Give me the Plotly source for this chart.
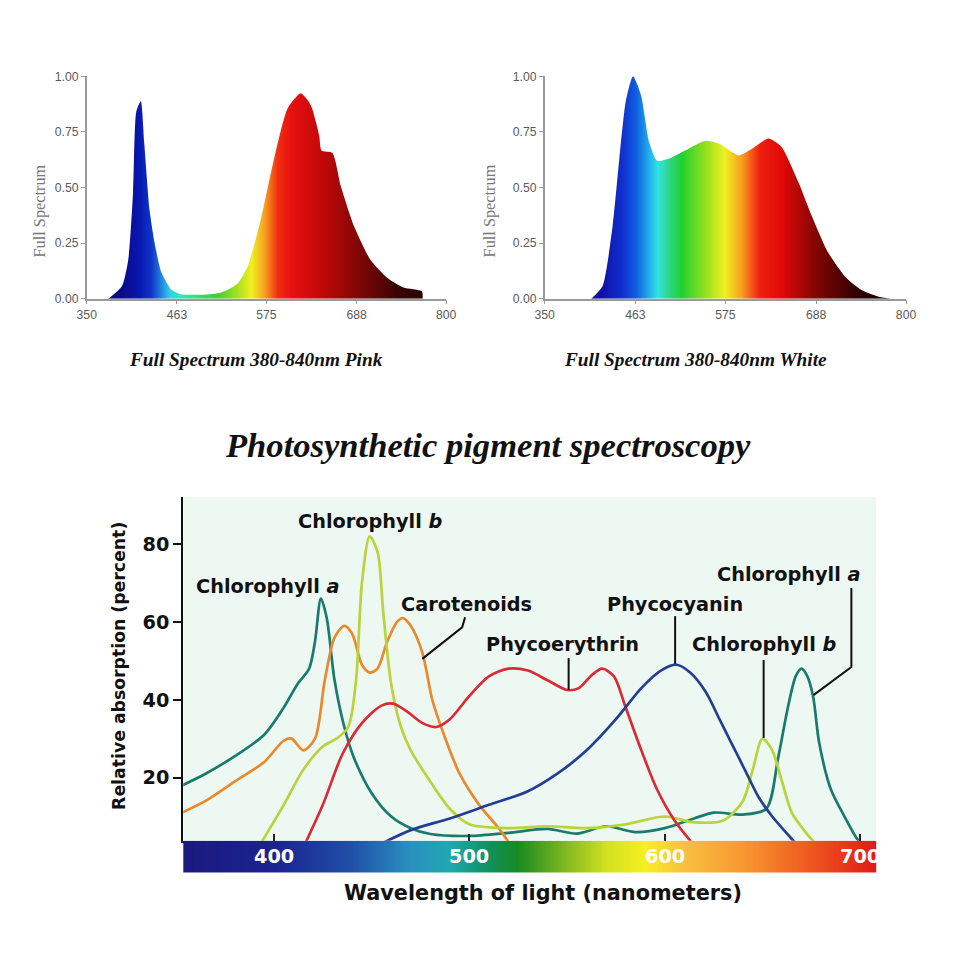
import numpy as np
import plotly.graph_objects as go

# ---------------- Data: LED spectra (top) ----------------
pink_nm = [377, 394, 402, 408, 412, 417.7, 422, 428.6, 435, 443.5, 456, 468, 497, 514, 526.7, 539,
           551.6, 568, 584.6, 601.5, 618, 630.5, 641, 644, 657.6, 668, 684.6, 705, 726, 746.6, 769.8, 770.5]
pink_val = [0, 0.056, 0.176, 0.48, 0.84, 0.887, 0.70, 0.40, 0.25, 0.117, 0.04, 0.02, 0.018, 0.024, 0.04, 0.068,
            0.146, 0.357, 0.63, 0.855, 0.923, 0.87, 0.735, 0.666, 0.655, 0.508, 0.327, 0.176, 0.094, 0.05, 0.033, 0]

white_nm = [408, 422, 434.6, 443, 451, 460, 470, 480, 490, 505, 525.6, 550, 567, 591.6, 608, 628.8,
            645, 666, 682.5, 703, 724, 744, 765, 781]
white_val = [0, 0.056, 0.327, 0.63, 0.887, 1.0, 0.915, 0.705, 0.62, 0.63, 0.667, 0.71, 0.697, 0.644, 0.674, 0.72,
             0.682, 0.523, 0.373, 0.207, 0.10, 0.04, 0.01, 0]

top_xticks = [350, 463, 575, 688, 800]
top_yticks = [0, 0.25, 0.5, 0.75, 1.0]

# ---------------- Data: pigment absorption (bottom) ----------------
chla_nm = [353, 365, 380, 395, 405, 412, 418, 421, 424, 427, 431, 436, 441, 450, 460, 470, 480, 500, 520, 540,
           555, 570, 585, 600, 615, 625, 640, 652, 658, 663, 667, 670, 673, 676, 679, 685, 692, 698, 702]
chla_val = [18, 21, 25.5, 31, 38, 44, 48, 55, 66, 61, 45, 33, 25, 16, 10, 7, 5.5, 5, 5.8, 6.8,
            5.6, 7.5, 6, 7, 9.5, 11, 10.5, 12, 25, 38, 46, 48, 46, 40.6, 29, 17, 10, 4.6, 2]

chlb_nm = [392, 405, 415, 425, 432, 438, 442, 445, 449, 453, 456, 460, 465, 470, 480, 490, 500, 520, 540,
           560, 580, 600, 615, 630, 640, 645, 650, 655, 660, 665, 672, 679]
chlb_val = [2, 13, 22, 28, 30, 33, 45, 70, 82, 78, 62, 44, 33, 27, 19, 12, 8, 7, 7.5,
            7, 8, 10, 8.5, 9, 14, 22, 30, 27, 19, 11, 6, 2]

caro_nm = [353, 365, 380, 395, 405, 409, 415, 421, 426, 431, 436, 440, 445, 449, 453, 458, 463, 466, 470,
           476, 481, 487, 495, 505, 515, 522]
caro_val = [11, 14, 19, 24, 29.5, 30, 27, 30, 45, 56, 59, 57, 49, 47, 48, 55, 60, 61, 59,
            52, 40, 31, 21, 13, 7, 2]

pe_nm = [415, 425, 435, 445, 455, 461, 468, 476, 483, 490, 500, 510, 520, 530, 540, 550, 556, 563, 568,
         574, 580, 588, 596, 605, 616]
pe_val = [2, 13, 26, 34, 38.5, 39, 37, 34, 33, 35, 41, 46, 48, 47.5, 45, 42.5, 43, 46.5, 48,
          46, 38, 27, 17, 9, 2]

pc_nm = [451, 470, 490, 510, 530, 545, 560, 575, 588, 598, 606, 613, 621, 628, 634, 641, 648, 655, 661, 669]
pc_val = [2, 6.5, 9.5, 13, 16.5, 21, 27, 35, 43, 47.5, 49, 47, 42, 35, 29, 22, 15, 10, 6.5, 2]

bottom_xticks = [400, 500, 600, 700]
bottom_yticks = [20, 40, 60, 80]

# ---------------- Styles ----------------
W = H = 960
# the captured page shows the figure offset by the body margin and slightly scaled;
# positions below are given in captured-picture pixels and mapped back to figure space
CAP_SCALE = 0.9836
CAP_OFF = 7.9


def fig_px(p):
    return (p - CAP_OFF) / CAP_SCALE


def px_x(p):
    return fig_px(p) / W


def px_y(p):
    return 1 - fig_px(p) / H


def fs(s):
    return round(s / CAP_SCALE, 1)


def cscale(stops, lo, hi):
    return [[(nm - lo) / (hi - lo), c] for nm, c in stops]


pink_stops = [(350, '#0a0a70'), (395, '#0a0a90'), (415, '#0818b0'), (430, '#1038c8'), (442, '#2088e0'),
              (452, '#30d0e8'), (465, '#30e8b8'), (485, '#30e070'), (510, '#40d030'), (535, '#a8e020'),
              (552, '#f0f020'), (568, '#f8a020'), (584, '#f03010'), (600, '#e81010'), (640, '#c00808'),
              (688, '#7a0606'), (730, '#3a0303'), (800, '#100000')]
white_stops = [(350, '#0a0a80'), (420, '#1010a8'), (445, '#1030d0'), (462, '#1060e0'), (476, '#20a8ea'),
               (488, '#30e4e4'), (500, '#30d890'), (517, '#20d030'), (545, '#90e020'), (570, '#f0f020'),
               (590, '#f8a020'), (612, '#f02010'), (640, '#e00808'), (682, '#800505'), (730, '#300202'),
               (800, '#080000')]
bar_stops = [(350, '#1a1a7e'), (400, '#1c2290'), (440, '#2050a8'), (470, '#2a90c0'), (490, '#20a8b0'),
             (510, '#109060'), (525, '#188a20'), (545, '#70b020'), (570, '#d0e020'), (590, '#f8f020'),
             (610, '#f8c040'), (640, '#f89830'), (670, '#f06020'), (710, '#e01818')]

fig = go.Figure()

# top spectra
fig.add_trace(go.Scatter(x=pink_nm, y=pink_val, mode='lines', fill='tozeroy',
                         line=dict(width=0, color='rgba(0,0,0,0)', shape='spline', smoothing=0.6),
                         fillgradient=dict(type='horizontal', colorscale=cscale(pink_stops, 350, 800),
                                           start=350, stop=800),
                         xaxis='x', yaxis='y', hoverinfo='skip', showlegend=False))
fig.add_trace(go.Scatter(x=white_nm, y=white_val, mode='lines', fill='tozeroy',
                         line=dict(width=0, color='rgba(0,0,0,0)', shape='spline', smoothing=0.6),
                         fillgradient=dict(type='horizontal', colorscale=cscale(white_stops, 350, 800),
                                           start=350, stop=800),
                         xaxis='x2', yaxis='y2', hoverinfo='skip', showlegend=False))

# spectrum bar under bottom chart
bar_x = np.arange(350, 710.5, 0.5)
fig.add_trace(go.Heatmap(x=bar_x, y=[0], z=[bar_x], zmin=350, zmax=710,
                         colorscale=cscale(bar_stops, 350, 710), showscale=False,
                         xaxis='x3', yaxis='y4', hoverinfo='skip'))

curves = [
    (chla_nm, chla_val, '#1a7a6c'),
    (caro_nm, caro_val, '#e8892e'),
    (chlb_nm, chlb_val, '#b8d43a'),
    (pe_nm, pe_val, '#d92b35'),
    (pc_nm, pc_val, '#233f91'),
]
for xs, ys, col in curves:
    fig.add_trace(go.Scatter(x=xs, y=ys, mode='lines',
                             line=dict(color=col, width=2.7, shape='spline', smoothing=0.8),
                             xaxis='x3', yaxis='y3', hoverinfo='skip', showlegend=False))

top_axis_common = dict(showline=True, linecolor='#9a9a9a', linewidth=1.5, ticks='outside', ticklen=4,
                       tickcolor='#9a9a9a', showgrid=False, zeroline=False,
                       tickfont=dict(family='Liberation Sans', size=fs(12), color='#5a5a5a'))

fig.update_layout(
    width=W, height=H, autosize=False,
    margin=dict(l=0, r=0, t=0, b=0),
    paper_bgcolor='white', plot_bgcolor='white',
    showlegend=False,
    xaxis=dict(domain=[px_x(85), px_x(446)], range=[350, 800], tickvals=top_xticks, anchor='y',
               **top_axis_common),
    yaxis=dict(domain=[px_y(299), px_y(77)], range=[0, 1.0], tickvals=top_yticks, tickformat='.2f',
               anchor='x', **top_axis_common),
    xaxis2=dict(domain=[px_x(545), px_x(908)], range=[350, 800], tickvals=top_xticks, anchor='y2',
                **top_axis_common),
    yaxis2=dict(domain=[px_y(299), px_y(77)], range=[0, 1.0], tickvals=top_yticks, tickformat='.2f',
                anchor='x2', **top_axis_common),
    xaxis3=dict(domain=[px_x(182), px_x(878)], range=[353.6, 708.2], anchor='y3', showline=True,
                linecolor='#222222', linewidth=1.5, ticks='inside', tickvals=bottom_xticks, ticklen=7,
                tickwidth=2, tickcolor='#222222', showticklabels=False, showgrid=False, zeroline=False),
    yaxis3=dict(domain=[px_y(840), px_y(497)], range=[3.8, 92.1], anchor='x3', showline=True,
                linecolor='#111111', linewidth=2, ticks='outside', ticklen=8, tickwidth=2,
                tickcolor='#111111', tickvals=bottom_yticks, showgrid=False, zeroline=False,
                tickfont=dict(family='DejaVu Sans', size=fs(19), color='#111111', weight='bold')),
    yaxis4=dict(domain=[px_y(872), px_y(840)], range=[-0.5, 0.5], anchor='x3', visible=False),
)

# background panel of bottom chart
fig.add_shape(type='rect', xref='x3 domain', yref='y3 domain', x0=0, x1=1, y0=0, y1=1,
              fillcolor='#eef8f3', line=dict(width=0), layer='below')

# leader lines (data coords of bottom chart)
leaders = [
    [(497.8, 61.2), (496.3, 58.6), (475.9, 50.5)],
    [(550.8, 50.7), (550.8, 42.6)],
    [(605.3, 61.5), (605.3, 49.2)],
    [(650.6, 50.2), (650.6, 30.2)],
    [(695.5, 68.7), (695.5, 48.4), (676.1, 41.2)],
]
for pts in leaders:
    path = 'M ' + ' L '.join(f'{x},{y}' for x, y in pts)
    fig.add_shape(type='path', xref='x3', yref='y3', path=path, line=dict(color='#111111', width=2))

C = dict(xanchor='center', yanchor='middle', showarrow=False)

label_font = dict(family='DejaVu Sans', size=fs(19), color='#111111')
labels = [
    ('<b>Chlorophyll <i>b</i></b>', 449.4, 85.7),
    ('<b>Chlorophyll <i>a</i></b>', 396.9, 69.2),
    ('<b>Carotenoids</b>', 498.3, 64.6),
    ('<b>Phycoerythrin</b>', 547.7, 54.3),
    ('<b>Phycocyanin</b>', 605.3, 64.6),
    ('<b>Chlorophyll <i>b</i></b>', 651.1, 54.3),
    ('<b>Chlorophyll <i>a</i></b>', 663.4, 72.1),
]
for txt, x, y in labels:
    fig.add_annotation(text=txt, x=x, y=y, xref='x3', yref='y3', font=label_font, **C)

# numbers inside the spectrum bar
for v in bottom_xticks:
    fig.add_annotation(text=f'<b>{v}</b>', x=v, y=0, xref='x3', yref='y4',
                       font=dict(family='DejaVu Sans', size=fs(19), color='white'), **C)

# titles
serif_bi = dict(family='Liberation Serif', color='#111111')
fig.add_annotation(text='<b><i>Full Spectrum 380-840nm Pink</i></b>', x=px_x(255), y=px_y(360),
                   xref='paper', yref='paper', font=dict(size=fs(19), **serif_bi), **C)
fig.add_annotation(text='<b><i>Full Spectrum 380-840nm White</i></b>', x=px_x(697), y=px_y(360),
                   xref='paper', yref='paper', font=dict(size=fs(19), **serif_bi), **C)
fig.add_annotation(text='<b><i>Photosynthetic pigment spectroscopy</i></b>', x=px_x(488), y=px_y(445),
                   xref='paper', yref='paper', font=dict(size=fs(34), **serif_bi), **C)

for xp in (38, 490):
    fig.add_annotation(text='Full Spectrum', x=px_x(xp), y=px_y(211), xref='paper', yref='paper',
                       textangle=-90, font=dict(family='Liberation Serif', size=fs(16), color='#777777'), **C)

fig.add_annotation(text='<b>Relative absorption (percent)</b>', x=px_x(118), y=px_y(666),
                   xref='paper', yref='paper', textangle=-90,
                   font=dict(family='DejaVu Sans', size=fs(17), color='#111111'), **C)
fig.add_annotation(text='<b>Wavelength of light (nanometers)</b>', x=px_x(543), y=px_y(892),
                   xref='paper', yref='paper',
                   font=dict(family='DejaVu Sans', size=fs(20.5), color='#111111'), **C)

fig.write_html('out.html')
